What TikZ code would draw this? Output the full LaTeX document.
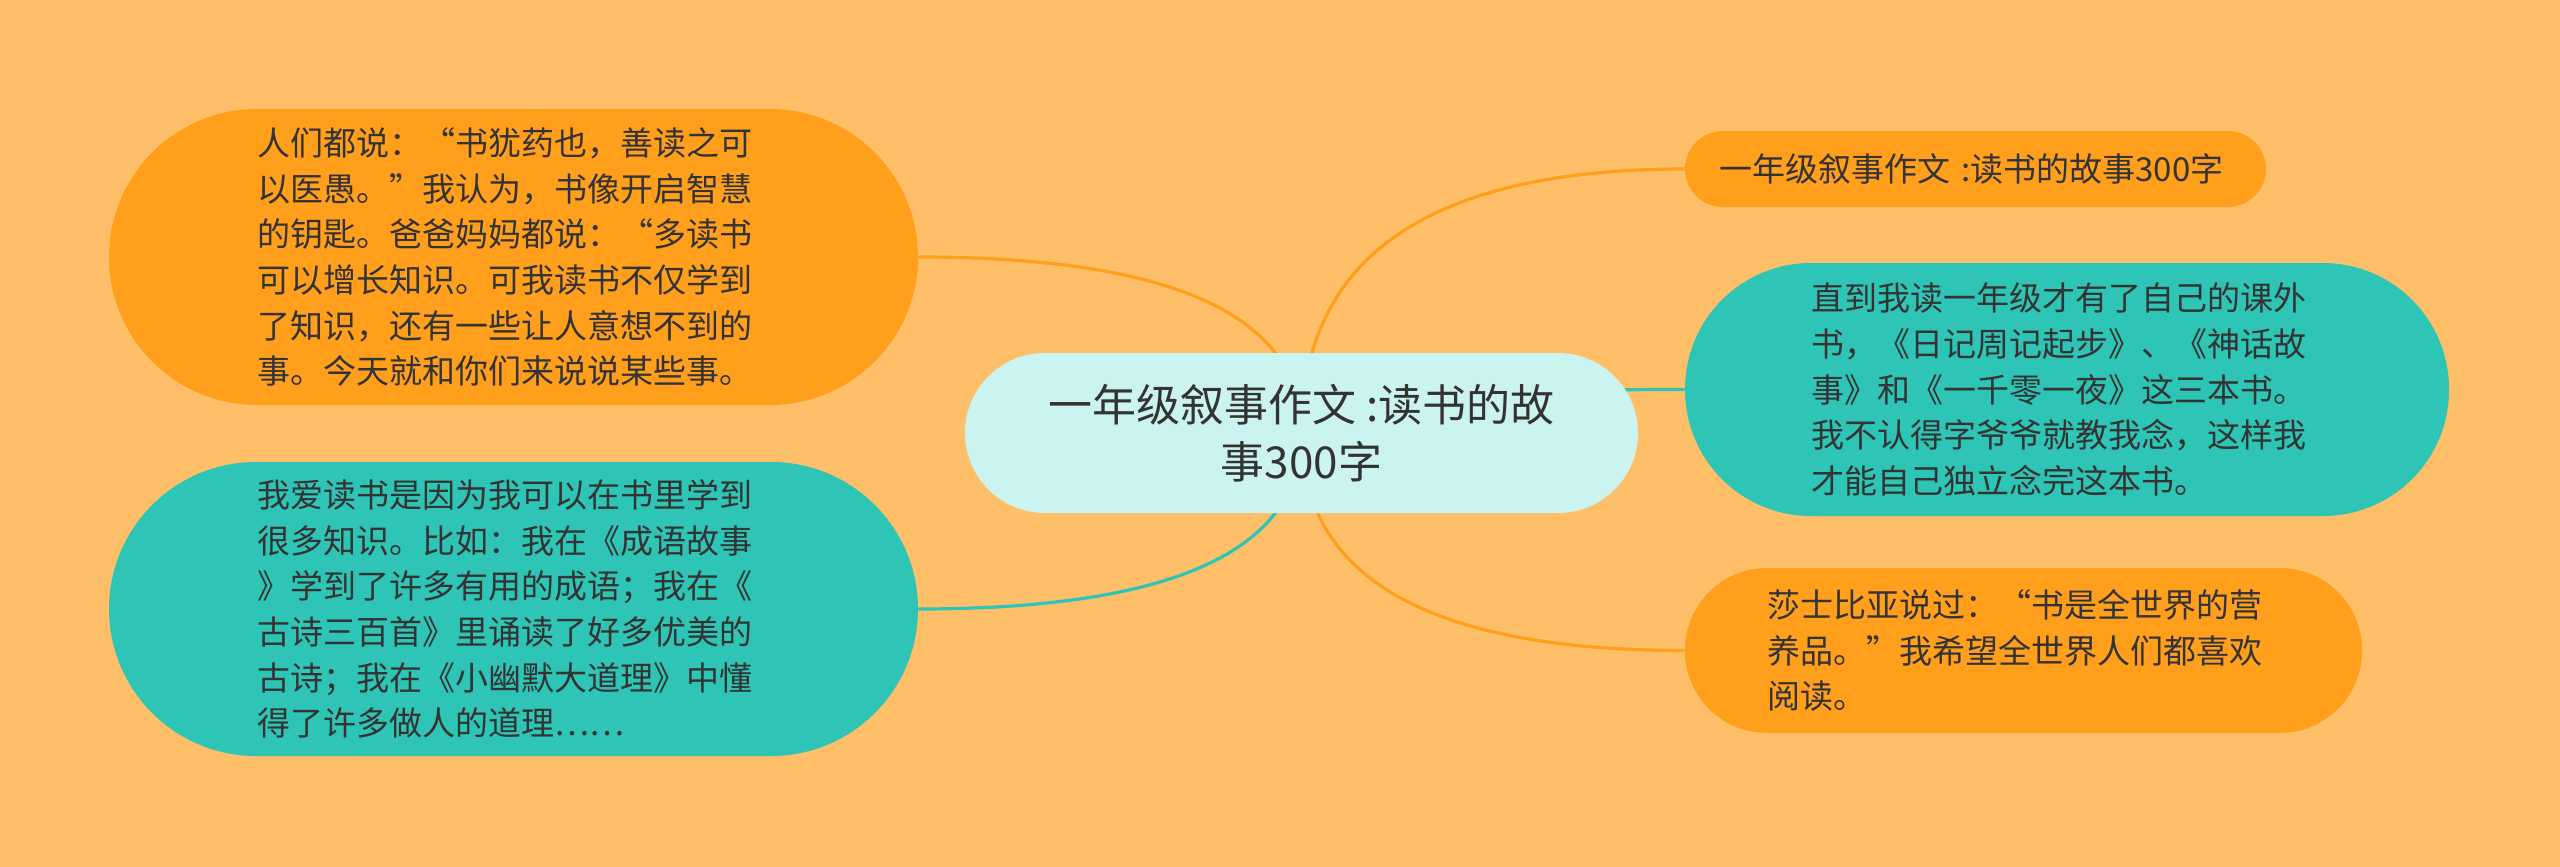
\documentclass[tikz,border=0pt]{standalone}
\usepackage{fontspec}
\usetikzlibrary{calc}
\newfontfamily\cjk{Noto Sans CJK SC}
\pgfdeclarelayer{bg}
\pgfdeclarelayer{edges}
\pgfsetlayers{bg,edges,main}
\definecolor{bgc}{HTML}{FFBF69}
\definecolor{orangec}{HTML}{FF9F1C}
\definecolor{tealc}{HTML}{2EC4B6}
\definecolor{lightc}{HTML}{CBF3F0}
\definecolor{txt}{HTML}{333333}
\tikzset{
  leaf/.style={rectangle, inner sep=0pt, text width=256pt, align=left,
    font=\cjk\fontsize{16.5}{22.85}\selectfont, text=txt},
  rootnode/.style={rectangle, inner sep=0pt, align=center, fill=lightc,
    font=\cjk\fontsize{22}{28.5}\selectfont, text=txt},
  conn/.style={line width=1.6pt},
}
% quadratic curve from root centre to a child anchor, control at (root x, child y)
\newcommand{\qlink}[2]{%
  \draw[conn, #1] (c.center) .. controls ($(c.center)!0.6667!(c.center |- #2)$)
    and ($(#2)!0.6667!(c.center |- #2)$) .. (#2);}
\begin{document}
\begin{tikzpicture}[x=0.5pt,y=-0.5pt]
\begin{pgfonlayer}{bg}
\fill[bgc] (0,0) rectangle (2560,867);
\end{pgfonlayer}
\useasboundingbox (0,0) rectangle (2560,867);

\node[rootnode, minimum width=336.5pt, minimum height=80pt, rounded corners=40pt] (c) at (1301.5,433)
  {一年级叙事作文 :读书的故\\事300字};

\node[leaf, fill=orangec, minimum width=404.5pt, minimum height=148pt, rounded corners=74pt] (tl) at (513.5,257)
  {人们都说：“书犹药也，善读之可\\以医愚。”我认为，书像开启智慧\\的钥匙。爸爸妈妈都说：“多读书\\可以增长知识。可我读书不仅学到\\了知识，还有一些让人意想不到的\\事。今天就和你们来说说某些事。};

\node[leaf, fill=tealc, minimum width=404.5pt, minimum height=147pt, rounded corners=73.5pt] (bl) at (513.5,609)
  {我爱读书是因为我可以在书里学到\\很多知识。比如：我在《成语故事\\》学到了许多有用的成语；我在《\\古诗三百首》里诵读了好多优美的\\古诗；我在《小幽默大道理》中懂\\得了许多做人的道理……};

\node[leaf, fill=orangec, minimum width=290.5pt, minimum height=38pt, rounded corners=19pt] (rt) at (1975.5,169)
  {一年级叙事作文 :读书的故事300字};

\node[leaf, fill=tealc, minimum width=382pt, minimum height=126.5pt, rounded corners=63pt] (rm) at (2067,389.5)
  {直到我读一年级才有了自己的课外\\书，《日记周记起步》、《神话故\\事》和《一千零一夜》这三本书。\\我不认得字爷爷就教我念，这样我\\才能自己独立念完这本书。};

\node[leaf, fill=orangec, minimum width=338.5pt, minimum height=82.5pt, rounded corners=41pt] (rb) at (2023.5,650.5)
  {莎士比亚说过：“书是全世界的营\\养品。”我希望全世界人们都喜欢\\阅读。};

\begin{pgfonlayer}{edges}
\qlink{orangec}{tl.east}
\qlink{tealc}{bl.east}
\qlink{orangec}{rt.west}
\qlink{tealc}{rm.west}
\qlink{orangec}{rb.west}
\end{pgfonlayer}
\end{tikzpicture}
\end{document}
